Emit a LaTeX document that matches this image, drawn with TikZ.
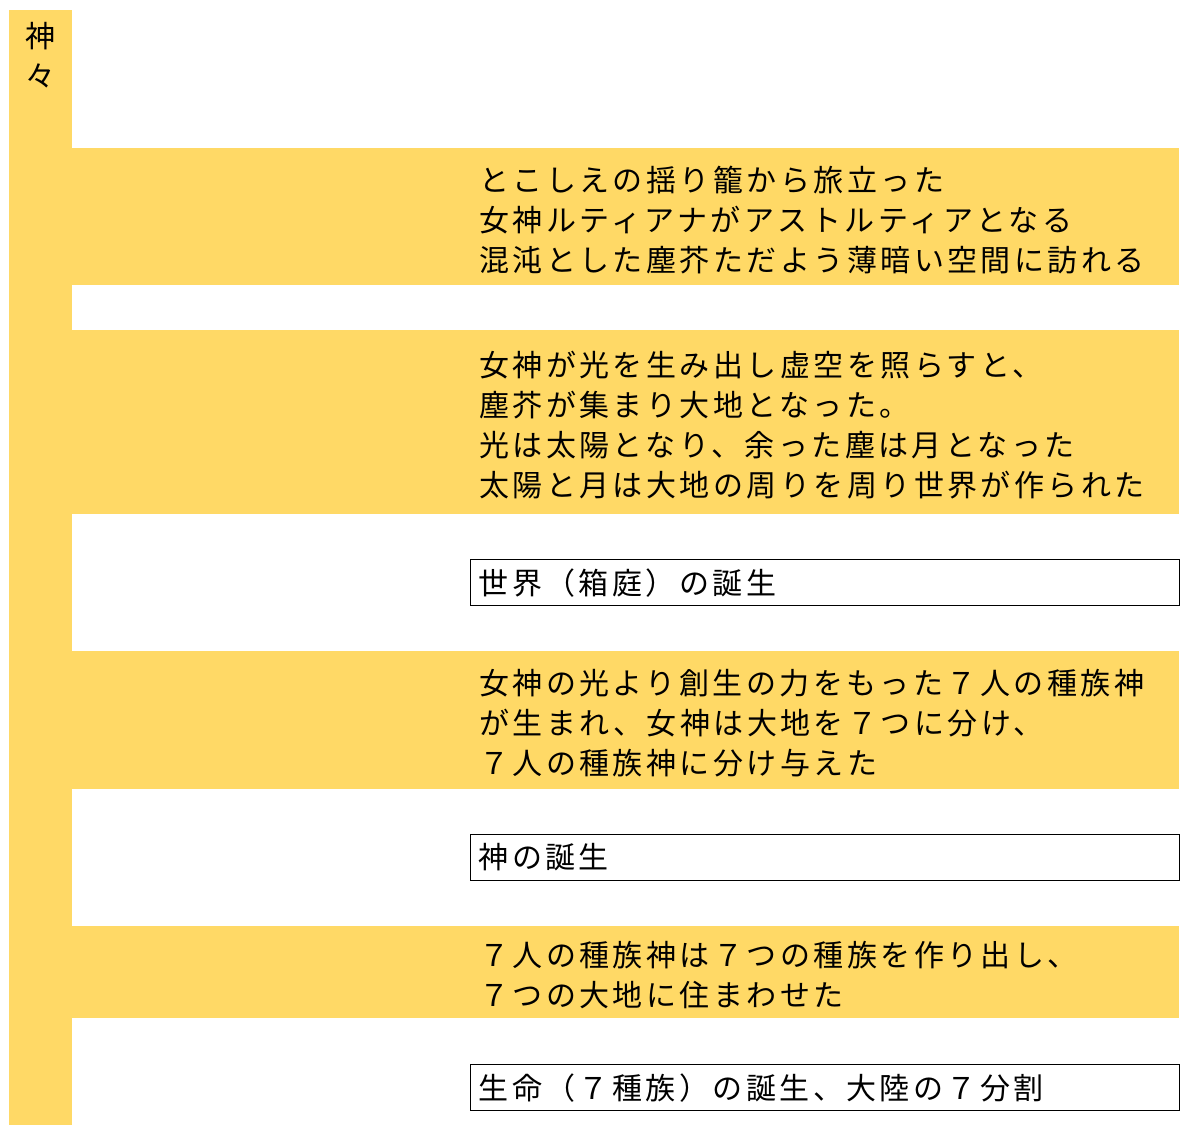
\documentclass[tikz,border=0pt]{standalone}
\usepackage{fontspec}
\setmainfont{Noto Sans CJK JP}[LetterSpace=11.5]
\usepackage{tikz}
\usetikzlibrary{positioning}
\definecolor{godyellow}{RGB}{255,217,102}

\begin{document}
\begin{tikzpicture}[
    x=1pt, y=-1pt,
    every node/.style={font=\fontsize{30}{40}\selectfont},
    band/.style={rectangle, fill=godyellow, inner sep=0pt, minimum width=1119pt, anchor=north west},
    bandtext/.style={align=left, inner sep=0pt},
    event/.style={rectangle, draw, line width=1.2pt, text width=693pt, align=left, inner xsep=8pt, inner ysep=0pt, minimum height=46pt, anchor=north west}
]

\useasboundingbox (0,0) rectangle (1200,1125);

% Left column
\node (gods) [rectangle, fill=godyellow, anchor=north west, minimum width=63pt, minimum height=1115pt, inner sep=0pt] at (9,10) {};
\node (godsname) [below=12pt of gods.north, align=center, inner sep=0pt] {神\\々};

% Bands
\node (band1) [band, minimum height=137pt] at (60,148) {};
\node (band2) [band, minimum height=184pt] at (60,330) {};
\node (band3) [band, minimum height=138pt] at (60,651) {};
\node (band4) [band, minimum height=92pt] at (60,926) {};

% Band texts
\node (text1) [bandtext, right=419pt of band1.west, yshift=-3pt] {とこしえの揺り籠から旅立った\\女神ルティアナがアストルティアとなる\\混沌とした塵芥ただよう薄暗い空間に訪れる};
\node (text2) [bandtext, right=419pt of band2.west, yshift=-3pt] {女神が光を生み出し虚空を照らすと、\\塵芥が集まり大地となった。\\光は太陽となり、余った塵は月となった\\太陽と月は大地の周りを周り世界が作られた};
\node (text3) [bandtext, right=419pt of band3.west, yshift=-3pt] {女神の光より創生の力をもった７人の種族神\\が生まれ、女神は大地を７つに分け、\\７人の種族神に分け与えた};
\node (text4) [bandtext, right=419pt of band4.west, yshift=-3pt] {７人の種族神は７つの種族を作り出し、\\７つの大地に住まわせた};

% Events
\node (event1) [event] at (470,559) {世界（箱庭）の誕生};
\node (event2) [event] at (470,834) {神の誕生};
\node (event3) [event] at (470,1064) {生命（７種族）の誕生、大陸の７分割};

\end{tikzpicture}
\end{document}
